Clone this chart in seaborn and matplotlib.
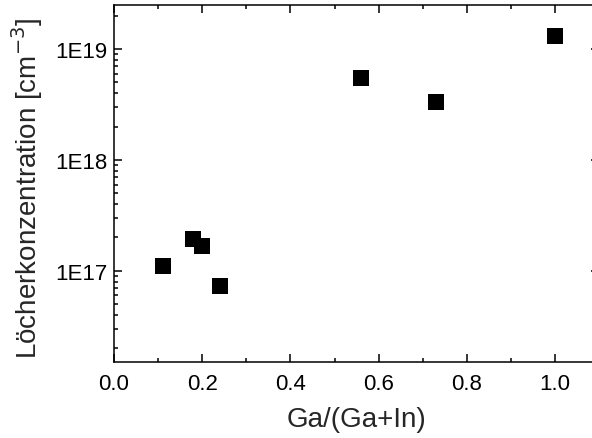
import numpy as np
import pandas as pd
import matplotlib
matplotlib.use('Agg')
import matplotlib.pyplot as plt
import matplotlib.ticker as mticker
import seaborn as sns

# Daten
ga_anteil = [0.11, 0.18, 0.20, 0.24, 0.56, 0.73, 1.00]
loecher = [1.10e17, 1.93e17, 1.66e17, 7.3e16, 5.5e18, 3.3e18, 1.32e19]
ytick_pos = [1e17, 1e18, 1e19]
ytick_lab = ['1E17', '1E18', '1E19']

df = pd.DataFrame({'x': ga_anteil, 'y': loecher})

sns.set_style('ticks')
plt.rcParams['font.family'] = ['Liberation Sans', 'DejaVu Sans']
plt.rcParams['xtick.direction'] = 'in'
plt.rcParams['ytick.direction'] = 'in'

# Achse rechts etwas ueber den Bildrand hinaus (wie im Original abgeschnitten)
x0, x_rechts = 114, 599
ax_xmax = (x_rechts - x0) / 441.0

fig = plt.figure(figsize=(5.92, 4.39), dpi=100)
ax = fig.add_axes([x0/592, (439-362.5)/439, (x_rechts-x0)/592, 356.5/439])

sns.scatterplot(x='x', y='y', data=df, marker='s', s=125, color='black',
                edgecolor='black', linewidth=0, ax=ax, legend=False)

ax.set_yscale('log')
ax.set_xlim(0, ax_xmax)
ax.set_ylim(1.52e16, 2.5e19)
ax.xaxis.set_major_locator(mticker.MultipleLocator(0.2))
ax.xaxis.set_minor_locator(mticker.MultipleLocator(0.1))
ax.xaxis.set_major_formatter(mticker.FormatStrFormatter('%.1f'))
ax.set_yticks(ytick_pos)
ax.set_yticklabels(ytick_lab)
ax.yaxis.set_minor_locator(mticker.LogLocator(base=10, subs=np.arange(2, 10)))
ax.yaxis.set_minor_formatter(mticker.NullFormatter())

ax.tick_params(which='both', top=True, right=True, width=1.1, labelsize=16,
               colors='black')
ax.tick_params(axis='x', which='major', pad=8)
ax.tick_params(axis='y', which='major', pad=4.5)
ax.tick_params(which='major', length=6)
ax.tick_params(which='minor', length=3)
for sp in ax.spines.values():
    sp.set_linewidth(1.1)
    sp.set_color('black')

ax.set_xlabel('Ga/(Ga+In)', fontsize=20)
ax.set_ylabel('Löcherkonzentration [cm$^{-3}$]', fontsize=20)
ax.xaxis.set_label_coords(0.5, -0.125)
ax.yaxis.set_label_coords(-0.1426, 0.488)

fig.savefig('out.png', dpi=100)
